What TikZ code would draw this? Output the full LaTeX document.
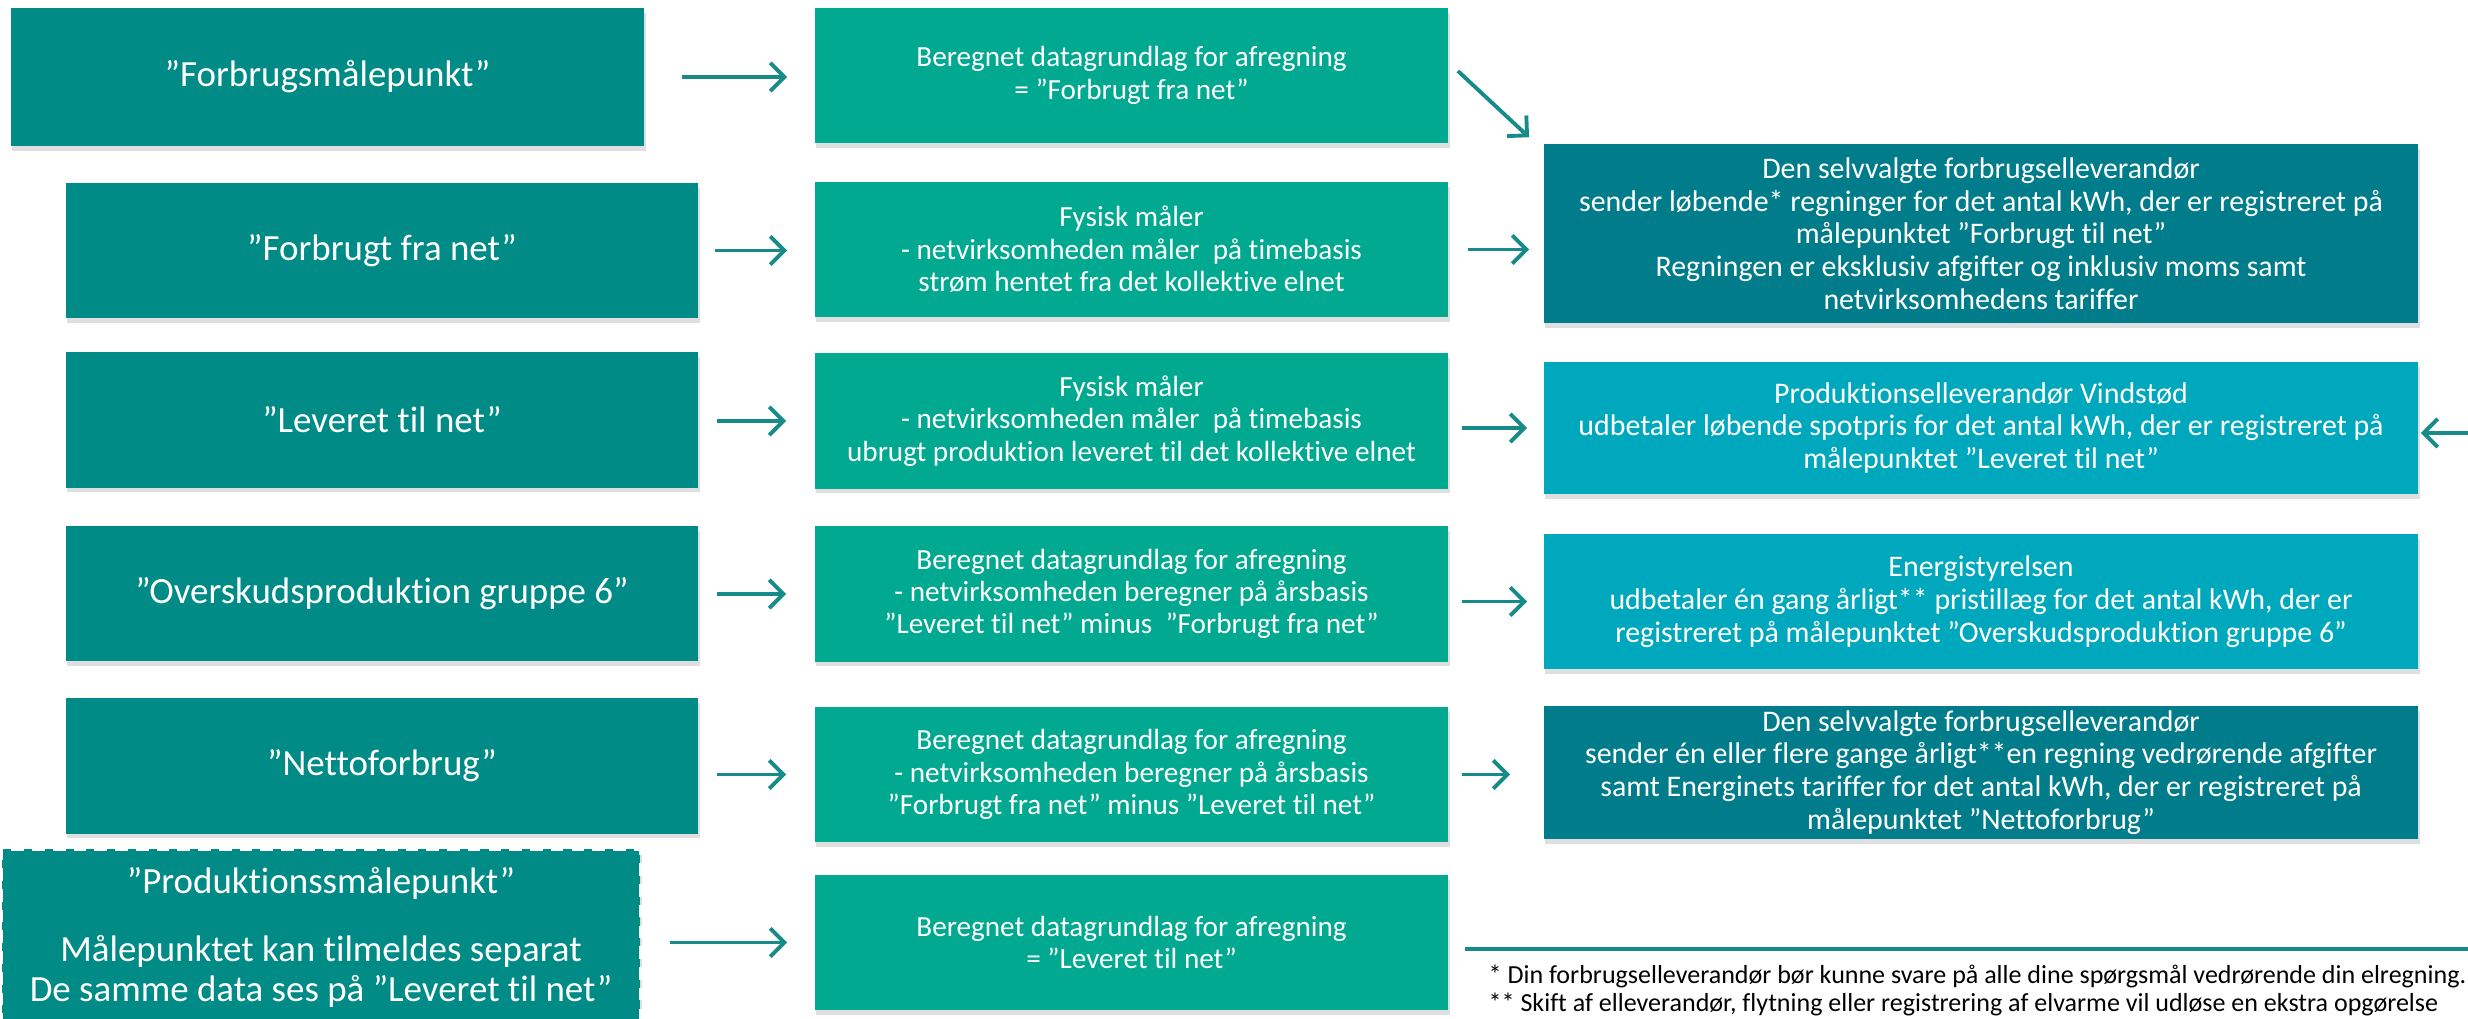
\documentclass[tikz,border=0pt]{standalone}
\usepackage{fontspec}
\setmainfont{Carlito}[Ligatures=CommonOff]
\usetikzlibrary{arrows.meta,shadows}
\definecolor{maaler}{HTML}{008B87}
\definecolor{grundlag}{HTML}{00A98F}
\definecolor{regning}{HTML}{007C8A}
\definecolor{betaling}{HTML}{00A8BE}
\definecolor{pilfarve}{HTML}{178A8A}
\begin{document}
\begin{tikzpicture}[x=0.01cm,y=-0.01cm,
  boks/.style={fill=#1,text=white,align=center,inner sep=0pt,drop shadow={shadow xshift=0.4pt,shadow yshift=-1.3pt,opacity=0.25}},
  venstre/.style={boks=maaler,minimum width=6.32cm,minimum height=1.35cm,font=\fontsize{10.5}{12.4}\selectfont},
  midt/.style={boks=grundlag,minimum width=6.33cm,minimum height=1.35cm,font=\fontsize{8.3}{9.2}\selectfont},
  hoejre/.style={boks=#1,minimum width=8.74cm,font=\fontsize{8.5}{9.3}\selectfont},
  pil/.style={draw=pilfarve,line width=1.1pt,-{Straight Barb[length=4pt,width=8pt]}},
  fodnote/.style={anchor=west,inner sep=0pt,font=\fontsize{7.4}{9}\selectfont}]
\useasboundingbox(0,0)rectangle(2468,1019);
\node[venstre,minimum width=6.33cm,minimum height=1.38cm](B1)at(327.5,77){”Forbrugsmålepunkt”};
\node[venstre](B2)at(382,250.5){”Forbrugt fra net”};
\node[venstre](B3)at(382,420){”Leveret til net”};
\node[venstre](B4)at(382,593.5){”Overskudsproduktion gruppe 6”};
\node[venstre](B5)at(382,766){”Nettoforbrug”};
\node[venstre,draw=white,line width=0.9pt,dash pattern=on 3.6pt off 2.3pt,minimum width=6.38cm,minimum height=1.77cm,font=\fontsize{10.5}{11.4}\selectfont](B6)at(321,937.5){”Produktionssmålepunkt”\\[8pt]Målepunktet kan tilmeldes separat\\De samme data ses på ”Leveret til net”};
\node[midt](M1)at(1131.5,75.5){Beregnet datagrundlag for afregning\\= ”Forbrugt fra net”};
\node[midt](M2)at(1131.5,249.5){Fysisk måler\\- netvirksomheden måler\ \ på timebasis\\strøm hentet fra det kollektive elnet};
\node[midt](M3)at(1131.5,421){Fysisk måler\\- netvirksomheden måler\ \ på timebasis\\ubrugt produktion leveret til det kollektive elnet};
\node[midt](M4)at(1131.5,594){Beregnet datagrundlag for afregning\\- netvirksomheden beregner på årsbasis\\”Leveret til net” minus\ \ ”Forbrugt fra net”};
\node[midt](M5)at(1131.5,774.5){Beregnet datagrundlag for afregning\\- netvirksomheden beregner på årsbasis\\”Forbrugt fra net” minus ”Leveret til net”};
\node[midt](M6)at(1131.5,942.5){Beregnet datagrundlag for afregning\\= ”Leveret til net”};
\node[hoejre=regning,minimum height=1.79cm](R1)at(1981,233.5){Den selvvalgte forbrugselleverandør\\sender løbende* regninger for det antal kWh, der er registreret på\\målepunktet ”Forbrugt til net”\\Regningen er eksklusiv afgifter og inklusiv moms samt\\netvirksomhedens tariffer};
\node[hoejre=betaling,minimum height=1.32cm](R2)at(1981,428){Produktionselleverandør Vindstød\\udbetaler løbende spotpris for det antal kWh, der er registreret på\\målepunktet ”Leveret til net”};
\node[hoejre=betaling,minimum height=1.35cm](R3)at(1981,601.5){Energistyrelsen\\udbetaler én gang årligt** pristillæg for det antal kWh, der er\\registreret på målepunktet ”Overskudsproduktion gruppe 6”};
\node[hoejre=regning,minimum height=1.33cm](R4)at(1981,772.5){Den selvvalgte forbrugselleverandør\\sender én eller flere gange årligt**en regning vedrørende afgifter\\samt Energinets tariffer for det antal kWh, der er registreret på\\målepunktet ”Nettoforbrug”};
\coordinate(ekstern)at(2500,433);
\draw[pil,shorten <=0.37cm,shorten >=0.27cm](B1)--(B1-|M1.west);
\draw[pil,shorten <=0.16cm,shorten >=0.27cm](B2)--(B2-|M2.west);
\draw[pil,shorten <=0.18cm,shorten >=0.28cm](M3.west-|B3.east)--(M3.west);
\draw[pil,shorten <=0.18cm,shorten >=0.28cm](M4.west-|B4.east)--(M4.west);
\draw[pil,shorten <=0.18cm,shorten >=0.28cm](M5.west-|B5.east)--(M5.west);
\draw[pil,shorten <=0.28cm,shorten >=0.27cm](M6.west-|B6.east)--(M6.west);
\draw[pil]([xshift=0.09cm,yshift=0.045cm]M1.east)--([xshift=-0.14cm,yshift=0.06cm]R1.north west);
\draw[pil,shorten <=0.19cm,shorten >=0.14cm](M2.east)--(M2.east-|R1.west);
\draw[pil,shorten <=0.13cm,shorten >=0.16cm](R2.west-|M3.east)--(R2.west);
\draw[pil,shorten <=0.13cm,shorten >=0.16cm](R3.west-|M4.east)--(R3.west);
\draw[pil,shorten <=0.13cm,shorten >=0.33cm](M5.east)--(M5.east-|R4.west);
\draw[pil,shorten >=0.02cm](ekstern)--(ekstern-|R2.east);
\draw[pilfarve,line width=1.4pt](1465,949)--(2480,949);
\node[fodnote](F1)at(1488,977){* Din forbrugselleverandør bør kunne svare på alle dine spørgsmål vedrørende din elregning.};
\node[fodnote](F2)at(1488,1005){** Skift af elleverandør, flytning eller registrering af elvarme vil udløse en ekstra opgørelse};
\end{tikzpicture}
\end{document}
